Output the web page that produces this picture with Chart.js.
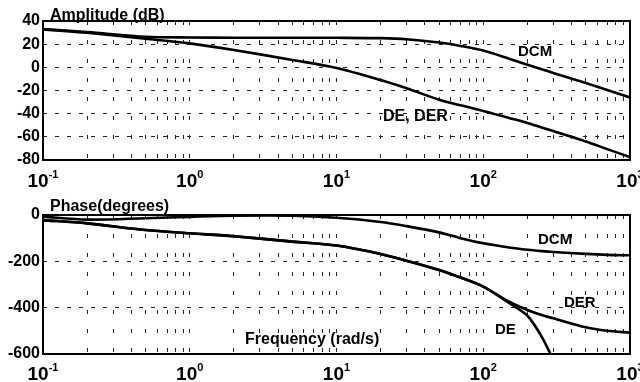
<!DOCTYPE html>
<html>
<head>
<meta charset="utf-8">
<script src="https://cdn.jsdelivr.net/npm/chart.js@4.4.1/dist/chart.umd.min.js"></script>
<style>
  html, body { margin: 0; padding: 0; background: #fff; }
  #wrap { position: relative; width: 640px; height: 382px; overflow: hidden; }
  .panel { position: absolute; left: 0; width: 640px; height: 191px; }
  #ampPanel { top: 0; }
  #phasePanel { top: 191px; }
</style>
</head>
<body>
<div id="wrap">
  <div class="panel" id="ampPanel"><canvas id="chartAmp" width="640" height="191"></canvas></div>
  <div class="panel" id="phasePanel"><canvas id="chartPhase" width="640" height="191"></canvas></div>
</div>
<script>
// frequency (rad/s)
const freq = [0.1, 0.2, 0.5, 1, 2, 5, 10, 20, 30, 50, 70, 100, 150, 200, 250, 300, 500, 700, 1000];

// amplitude (dB)
const ampDCM = [33, 30.5, 26.4, 25.8, 25.6, 25.6, 25.5, 25.2, 24.3, 21.5, 18.5, 14.5, 7.5, 2.3, -1.6, -4.8, -13.5, -19.5, -26];
const ampDE  = [32.8, 29.8, 24.7, 20.7, 15, 6.4, -0.5, -10.9, -18, -28, -32.7, -37.6, -43.7, -48, -51.9, -55, -64, -70.6, -77.5];

// phase (degrees)
const phaseDCM = [-7, -20, -14, -8, -3, -3, -12, -30, -48, -75, -100, -122, -140, -150, -156, -160, -168, -172, -174];
const phaseDE  = [-22, -36, -65, -79, -92, -115, -132, -168, -197, -237, -270, -309, -380, -435, -525, -625, null, null, null];
const phaseDER = [-22, -36, -65, -79, -92, -115, -132, -168, -197, -237, -270, -309, -374, -410, -432, -446, -485, -500, -508];

// axes
const xMajor = [0.1, 1, 10, 100, 1000];
const xExp = ["-1", "0", "1", "2", "3"];
const xGrid = [];
xMajor.slice(0, -1).forEach((d) => {
  for (let k = 1; k < 10; k++) xGrid.push(+(d * k).toPrecision(3));
});
xGrid.push(1000);

const ampTicks = [-80, -60, -40, -20, 0, 20, 40];
const phaseTicks = [-600, -400, -200, 0];

const FONT = "'Liberation Sans', Arial, Helvetica, sans-serif";

const ampLabels = [
  { text: "Amplitude (dB)", x: 50, y: 20, size: 16 },
  { text: "DCM", x: 518, y: 56, size: 15 },
  { text: "DE, DER", x: 383, y: 121, size: 16 }
];
const phaseLabels = [
  { text: "Phase(degrees)", x: 50, y: 20, size: 16 },
  { text: "DCM", x: 538, y: 53, size: 15 },
  { text: "DER", x: 564, y: 116, size: 15 },
  { text: "DE", x: 495, y: 143, size: 15 },
  { text: "Frequency (rad/s)", x: 245, y: 153, size: 16 }
];

function toPoints(ys) {
  return freq.map((f, i) => ({ x: f, y: ys[i] }));
}

function lineSet(label, ys) {
  return {
    label,
    data: toPoints(ys),
    borderColor: "#000",
    borderWidth: 2.6,
    pointRadius: 0,
    fill: false,
    spanGaps: false,
    tension: 0.3
  };
}

function makePlugin(labels, tickBaseline) {
  return {
    id: "bodeDecor",
    afterDatasetsDraw(chart) {
      const { ctx, chartArea } = chart;
      ctx.save();
      ctx.strokeStyle = "#000";
      ctx.lineWidth = 2;
      ctx.strokeRect(chartArea.left, chartArea.top,
        chartArea.right - chartArea.left, chartArea.bottom - chartArea.top);
      ctx.restore();
    },
    afterDraw(chart) {
      const { ctx } = chart;
      const xs = chart.scales.x;
      ctx.save();
      ctx.fillStyle = "#000";
      ctx.textBaseline = "alphabetic";
      ctx.textAlign = "left";
      xMajor.forEach((v, i) => {
        const px = xs.getPixelForValue(v);
        ctx.font = "bold 19px " + FONT;
        const w1 = ctx.measureText("10").width;
        ctx.font = "bold 11px " + FONT;
        const w2 = ctx.measureText(xExp[i]).width;
        const x0 = px - (w1 + w2) / 2;
        ctx.font = "bold 19px " + FONT;
        ctx.fillText("10", x0, tickBaseline);
        ctx.font = "bold 11px " + FONT;
        ctx.fillText(xExp[i], x0 + w1, tickBaseline - 9);
      });
      labels.forEach((l) => {
        ctx.font = "bold " + l.size + "px " + FONT;
        ctx.fillText(l.text, l.x, l.y);
      });
      ctx.restore();
    }
  };
}

function makeChart(canvasId, datasets, yMin, yMax, yTicks, padTop, xHeight, labels, tickBaseline) {
  const canvas = document.getElementById(canvasId);
  return new Chart(canvas, {
    type: "line",
    data: { datasets },
    options: {
      responsive: false,
      animation: false,
      events: [],
      layout: { padding: { top: padTop, right: 10, left: 0, bottom: 0 } },
      plugins: { legend: { display: false }, tooltip: { enabled: false } },
      scales: {
        x: {
          type: "logarithmic",
          min: 0.1,
          max: 1000,
          afterBuildTicks(scale) {
            scale.ticks = xGrid.map((v) => ({ value: v }));
          },
          afterFit(scale) {
            scale.height = xHeight;
          },
          ticks: { display: false },
          grid: { color: "#222", lineWidth: 1, drawTicks: false },
          border: { display: false, dash: [4, 15] }
        },
        y: {
          min: yMin,
          max: yMax,
          afterBuildTicks(scale) {
            scale.ticks = yTicks.map((v) => ({ value: v }));
          },
          afterFit(scale) {
            scale.width = 43;
          },
          ticks: {
            color: "#000",
            padding: 3,
            autoSkip: false,
            font: { family: FONT, size: 16, weight: "bold" }
          },
          grid: { color: "#222", lineWidth: 1, drawTicks: false },
          border: { display: false, dash: [4, 8] }
        }
      }
    },
    plugins: [makePlugin(labels, tickBaseline)]
  });
}

makeChart("chartAmp",
  [lineSet("DCM", ampDCM), lineSet("DE, DER", ampDE)],
  -80, 40, ampTicks, 21, 31, ampLabels, 187);

makeChart("chartPhase",
  [lineSet("DCM", phaseDCM), lineSet("DER", phaseDER), lineSet("DE", phaseDE)],
  -600, 0, phaseTicks, 24, 28, phaseLabels, 189);
</script>
</body>
</html>
